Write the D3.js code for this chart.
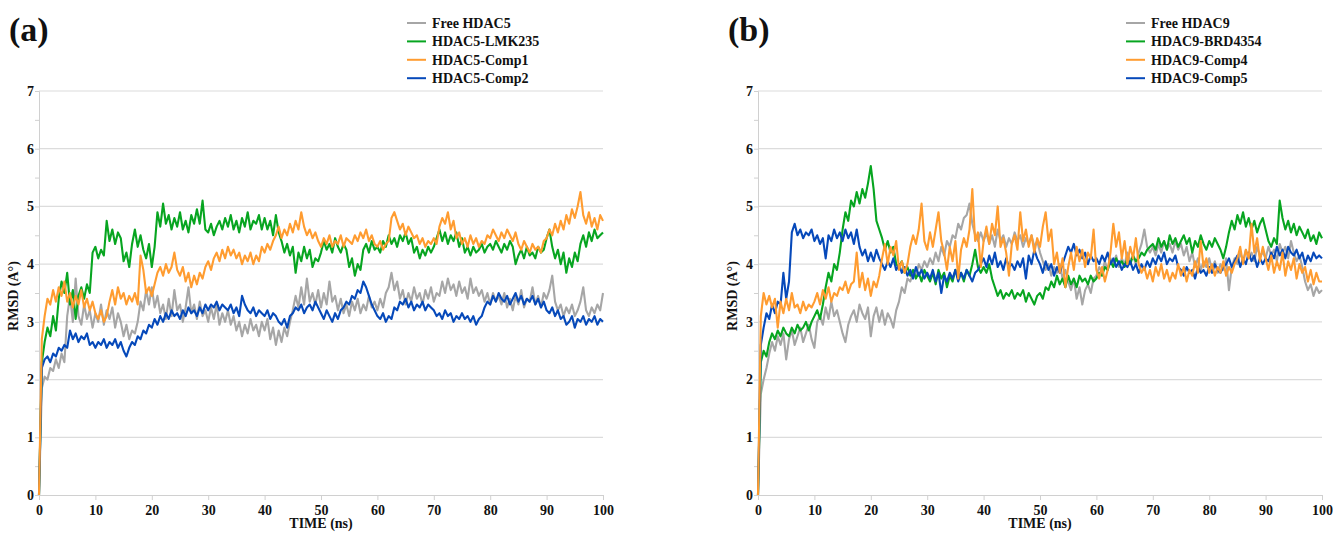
<!DOCTYPE html>
<html>
<head>
<meta charset="utf-8">
<script src="https://cdn.jsdelivr.net/npm/d3@7"></script>
<style>
  body { margin: 0; background: #fff; }
  text { font-family: "Liberation Serif", "Times New Roman", serif; font-weight: bold; fill: #111; }
</style>
</head>
<body>
<div id="chart"></div>
<script>
/* RMSD of HDAC5 / HDAC9 complexes over 100 ns, two panels */

// time axis in ns, one sample each 0.5 ns
const times = d3.range(0, 100.001, 0.5);
const xTicks = [0, 10, 20, 30, 40, 50, 60, 70, 80, 90, 100];
const yTicks = [0, 1, 2, 3, 4, 5, 6, 7];

// panel (a)
const namesA = ["Free HDAC5", "HDAC5-LMK235", "HDAC5-Comp1", "HDAC5-Comp2"];
const freeHDAC5 = [
  0, 1.85, 2.05, 2.0, 2.2, 2.15, 2.35, 2.2, 2.45, 2.3, 3.1, 3.45, 3.0, 3.75, 3.1, 2.95, 3.3, 3.05, 3.2, 2.9,
  3.15, 3.0, 3.3, 2.95, 3.2, 3.05, 3.25, 2.9, 3.15, 3.0, 2.75, 2.95, 2.7, 2.85, 2.8, 3.0, 3.35, 3.2, 3.55, 3.3,
  3.6, 3.25, 3.45, 3.15, 3.3, 3.05, 3.4, 3.1, 3.55, 3.2, 3.3, 3.0, 3.25, 3.6, 3.15, 3.3, 3.05, 3.35, 3.1, 3.2,
  3.0, 3.25, 3.05, 3.3, 2.95, 3.15, 3.0, 3.2, 2.95, 3.1, 2.85, 3.0, 2.75, 2.95, 2.8, 3.05, 2.85, 2.95, 2.75, 3.0,
  2.85, 3.05, 2.7, 2.9, 2.6, 2.85, 2.65, 2.9, 2.75, 3.0, 3.2, 3.45, 3.25, 3.6, 3.3, 3.75, 3.35, 3.5, 3.3, 3.55,
  3.25, 3.5, 3.3, 3.7, 3.35, 3.45, 3.2, 3.4, 3.15, 3.3, 3.1, 3.35, 3.2, 3.4, 3.15, 3.3, 3.2, 3.45, 3.25, 3.35,
  3.2, 3.4, 3.25, 3.5, 3.6, 3.85, 3.55, 3.7, 3.4, 3.55, 3.3, 3.5, 3.35, 3.6, 3.4, 3.5, 3.3, 3.55, 3.4, 3.6,
  3.35, 3.5, 3.45, 3.7, 3.5, 3.75, 3.55, 3.65, 3.45, 3.7, 3.5, 3.6, 3.4, 3.75, 3.5, 3.6, 3.45, 3.55, 3.35, 3.5,
  3.3, 3.5, 3.35, 3.45, 3.3, 3.5, 3.25, 3.4, 3.2, 3.45, 3.3, 3.55, 3.25, 3.4, 3.35, 3.6, 3.3, 3.45, 3.25, 3.5,
  3.4, 3.55, 3.8, 3.35, 3.2, 3.3, 3.1, 3.25, 3.15, 3.3, 3.1, 3.2, 3.35, 3.6, 3.2, 3.1, 3.25, 3.15, 3.3, 3.2,
  3.5];
const lmk235 = [
  0, 2.3, 2.65, 2.9, 2.75, 3.1, 2.85, 3.4, 3.7, 3.5, 3.85, 3.3, 3.55, 3.05, 3.45, 3.6, 3.4, 3.65, 3.5, 4.2,
  4.3, 4.1, 4.25, 4.15, 4.75, 4.4, 4.6, 4.35, 4.55, 4.45, 4.05, 4.2, 3.95, 4.35, 4.6, 4.3, 4.5, 4.25, 4.1, 4.35,
  3.95, 4.3, 4.9, 4.65, 5.05, 4.7, 4.85, 4.6, 4.8, 4.65, 4.9, 4.6, 4.75, 4.55, 4.85, 4.7, 4.95, 4.7, 5.1, 4.6,
  4.55, 4.7, 4.5, 4.65, 4.75, 4.6, 4.8, 4.65, 4.85, 4.6, 4.75, 4.55, 4.8, 4.65, 4.9, 4.6, 4.75, 4.7, 4.85, 4.6,
  4.8, 4.6, 4.75, 4.5, 4.85, 4.55, 4.4, 4.2, 4.35, 4.15, 4.3, 3.85, 4.2, 4.05, 4.3, 4.1, 4.25, 3.95, 4.1, 4.05,
  4.2, 4.4, 4.25, 4.35, 4.2, 4.45, 4.3, 4.2, 4.35, 4.25, 3.95, 4.1, 3.8, 4.0, 3.9, 4.25, 4.35, 4.2, 4.4, 4.25,
  4.3, 4.2, 4.4, 4.3, 4.5, 4.35, 4.45, 4.3, 4.5, 4.4, 4.55, 4.35, 4.45, 4.2, 4.3, 4.1, 4.25, 4.15, 4.3, 4.2,
  4.3, 4.45, 4.6, 4.4, 4.55, 4.35, 4.5, 4.4, 4.55, 4.3, 4.45, 4.2, 4.3, 4.15, 4.3, 4.2, 4.25, 4.35, 4.2, 4.3,
  4.35, 4.25, 4.4, 4.3, 4.2, 4.35, 4.25, 4.4, 4.3, 4.0, 4.15, 4.25, 4.1, 4.3, 4.15, 4.2, 4.1, 4.3, 4.2, 4.25,
  4.45, 4.6, 4.3, 4.1, 4.25, 4.0, 4.2, 3.85, 4.1, 3.95, 4.2, 4.05, 4.35, 4.5, 4.3, 4.55, 4.4, 4.6, 4.45, 4.5,
  4.55];
const comp1 = [
  0, 2.7, 3.1, 3.4, 3.3, 3.55, 3.35, 3.6, 3.45, 3.7, 3.35, 3.5, 3.25, 3.45, 3.3, 3.55, 3.25, 3.4, 3.2, 3.35,
  3.15, 3.05, 3.2, 3.0, 3.1, 3.35, 3.55, 3.3, 3.6, 3.4, 3.5, 3.3, 3.45, 3.35, 3.5, 3.3, 4.15, 3.9, 3.5, 3.6,
  3.45, 3.65, 3.85, 3.95, 3.8, 4.0, 3.85, 3.95, 4.2, 3.9, 3.8, 3.95, 3.7, 3.85, 3.6, 3.8, 3.65, 3.85, 3.75, 3.95,
  4.05, 3.9, 4.1, 4.2, 4.05, 4.25, 4.1, 4.3, 4.15, 4.25, 4.1, 4.2, 4.0, 4.15, 4.05, 4.2, 4.0, 4.15, 4.05, 4.3,
  4.2, 4.35, 4.25, 4.4, 4.5, 4.65, 4.45, 4.6, 4.5, 4.7, 4.55, 4.75, 4.6, 4.9, 4.65, 4.5, 4.6, 4.45, 4.55, 4.4,
  4.3, 4.45, 4.35, 4.5, 4.3, 4.4, 4.35, 4.5, 4.3, 4.45, 4.4, 4.35, 4.5, 4.4, 4.55, 4.45, 4.6, 4.4, 4.5, 4.35,
  4.3, 4.4, 4.25, 4.35, 4.4, 4.8, 4.9, 4.75, 4.6, 4.7, 4.5, 4.65, 4.55, 4.45, 4.5, 4.35, 4.45, 4.3, 4.4, 4.35,
  4.45, 4.35, 4.65, 4.8, 4.7, 4.9, 4.6, 4.75, 4.45, 4.55, 4.35, 4.45, 4.3, 4.5, 4.35, 4.45, 4.3, 4.4, 4.35, 4.5,
  4.45, 4.6, 4.5, 4.4, 4.55, 4.45, 4.6, 4.5, 4.4, 4.55, 4.35, 4.25, 4.4, 4.3, 4.2, 4.35, 4.25, 4.3, 4.2, 4.4,
  4.45, 4.6, 4.5, 4.7, 4.55, 4.75, 4.6, 4.85, 4.7, 4.95, 4.8, 5.0, 5.25, 4.85, 4.7, 4.9, 4.65, 4.8, 4.6, 4.85,
  4.75];
const comp2 = [
  0, 2.2, 2.35, 2.4, 2.3, 2.45, 2.4, 2.55, 2.5, 2.6, 2.55, 2.85, 2.7, 2.8, 2.65, 2.75, 2.7, 2.8, 2.6, 2.65,
  2.55, 2.65, 2.6, 2.7, 2.55, 2.65, 2.6, 2.7, 2.55, 2.65, 2.5, 2.4, 2.55, 2.65, 2.6, 2.75, 2.7, 2.85, 2.8, 2.95,
  2.9, 3.05, 2.95, 3.1, 3.0, 3.15, 3.05, 3.2, 3.1, 3.15, 3.05, 3.2, 3.1, 3.25, 3.15, 3.2, 3.1, 3.25, 3.15, 3.3,
  3.2, 3.3, 3.25, 3.35, 3.2, 3.3, 3.25, 3.2, 3.3, 3.15, 3.25, 3.1, 3.45, 3.3, 3.2, 3.15, 3.25, 3.1, 3.2, 3.15,
  3.1, 3.2, 3.05, 3.15, 3.1, 3.0, 2.95, 3.05, 2.9, 3.1, 3.15, 3.25, 3.2, 3.3, 3.15, 3.25, 3.3, 3.2, 3.35, 3.25,
  3.15, 3.05, 3.2, 3.1, 3.0, 3.15, 3.05, 3.2, 3.25, 3.35, 3.3, 3.45, 3.4, 3.55, 3.5, 3.7, 3.6, 3.45, 3.3, 3.2,
  3.1, 3.05, 3.15, 3.0, 3.1, 3.05, 3.25, 3.2, 3.35, 3.3, 3.4, 3.25, 3.35, 3.2, 3.3, 3.25, 3.35, 3.2, 3.3, 3.25,
  3.2, 3.1, 3.15, 3.05, 3.2, 3.1, 3.15, 3.0, 3.1, 3.05, 3.15, 3.05, 3.1, 3.0, 3.1, 2.95, 3.05, 3.1, 3.25, 3.35,
  3.3, 3.45, 3.35, 3.5, 3.4, 3.35, 3.45, 3.3, 3.4, 3.5, 3.35, 3.45, 3.3, 3.4, 3.35, 3.45, 3.3, 3.4, 3.25, 3.35,
  3.2, 3.15, 3.25, 3.1, 3.2, 3.05, 3.1, 2.95, 3.0, 3.1, 2.9, 3.05, 3.0, 3.1, 2.95, 3.05, 3.0, 3.1, 2.95, 3.05,
  3.0];

// panel (b)
const namesB = ["Free HDAC9", "HDAC9-BRD4354", "HDAC9-Comp4", "HDAC9-Comp5"];
const freeHDAC9 = [
  0, 1.75, 2.0, 2.2, 2.45, 2.65, 2.5, 2.75, 2.6, 2.8, 2.35, 2.7, 2.85, 2.6, 2.75, 2.9, 2.65, 2.8, 2.95, 2.7,
  2.55, 3.0, 3.1, 2.95, 3.25, 3.05, 3.35, 3.1, 3.2, 3.0, 2.8, 2.65, 2.95, 3.1, 3.2, 3.0, 3.3, 3.15, 3.05, 3.25,
  2.75, 3.1, 3.25, 3.0, 3.2, 2.95, 3.15, 3.05, 2.9, 3.2, 3.35, 3.6, 3.5, 3.75, 3.7, 3.85, 3.8, 4.0, 3.9, 4.05,
  3.95, 4.1, 4.0, 4.2, 4.05, 4.3, 4.15, 4.4, 4.3, 4.5, 4.45, 4.7, 4.6, 4.8, 4.85, 5.05, 4.7, 4.5, 4.4, 4.55,
  4.4, 4.55, 4.35, 4.5, 4.3, 4.6, 4.4, 4.5, 4.3, 4.45, 4.35, 4.55, 4.4, 4.5, 4.3, 4.45, 4.35, 4.5, 4.3, 4.4,
  4.2, 4.05, 3.9, 4.0, 3.8, 3.95, 3.85, 4.0, 3.75, 3.9, 3.7, 3.55, 3.75, 3.4, 3.6, 3.3, 3.55, 3.65, 3.5, 3.75,
  3.8, 3.95, 3.85, 4.05, 3.9, 4.1, 4.0, 4.15, 3.95, 4.1, 4.0, 4.2, 4.05, 4.15, 4.0, 4.2, 4.35, 4.6, 4.3, 4.2,
  4.3, 4.15, 4.35, 4.2, 4.4, 4.25, 4.35, 4.2, 4.4, 4.25, 4.35, 4.15, 4.3, 4.05, 4.2, 3.95, 4.1, 3.9, 4.05, 3.95,
  4.1, 3.9, 4.05, 3.85, 4.0, 3.9, 4.1, 3.55, 3.95, 4.1, 4.0, 4.2, 4.05, 4.25, 4.1, 4.2, 4.05, 4.3, 4.15, 4.2,
  4.1, 4.3, 4.15, 4.25, 4.05, 4.35, 4.2, 4.3, 4.1, 4.4, 4.2, 4.05, 4.15, 3.95, 3.7, 3.55, 3.65, 3.45, 3.6, 3.5,
  3.55];
const brd4354 = [
  0, 2.3, 2.5, 2.4, 2.65, 2.8, 2.7, 2.85, 2.75, 2.9, 2.8, 2.75, 2.9, 2.8, 2.95, 2.85, 2.9, 3.0, 2.85, 3.0,
  3.1, 3.2, 3.05, 3.3, 3.6, 3.85, 3.7, 4.0, 3.9, 4.2, 4.6, 4.9, 4.75, 5.1, 5.0, 5.25, 5.05, 5.3, 5.15, 5.4,
  5.7, 5.3, 4.75, 4.6, 4.45, 4.25, 4.4, 4.2, 4.3, 4.0, 3.95, 4.05, 3.85, 3.95, 3.8, 3.9, 3.75, 3.85, 3.7, 3.9,
  3.8, 3.7, 3.85, 3.65, 3.9, 3.75, 3.85, 3.6, 3.8, 3.7, 3.9, 3.75, 3.85, 3.7, 3.9, 3.8, 4.0, 4.25, 3.95, 3.85,
  3.95, 3.85, 4.0, 3.75, 3.6, 3.45, 3.55, 3.4, 3.5, 3.45, 3.55, 3.4, 3.5, 3.45, 3.55, 3.35, 3.5, 3.4, 3.3, 3.45,
  3.5, 3.4, 3.6, 3.55, 3.7, 3.6, 3.8, 3.65, 3.75, 3.6, 3.8, 3.65, 3.75, 3.6, 3.8, 3.7, 3.75, 3.65, 3.8, 3.7,
  3.75, 3.85, 3.8, 3.95, 3.9, 4.05, 3.95, 4.1, 4.0, 4.05, 3.95, 4.1, 4.0, 4.15, 4.05, 4.1, 4.2, 4.15, 4.25, 4.3,
  4.35, 4.25, 4.45, 4.3, 4.4, 4.25, 4.5, 4.35, 4.45, 4.3, 4.4, 4.5, 4.35, 4.45, 4.2, 4.4, 4.3, 4.5, 4.35, 4.25,
  4.4, 4.3, 4.45, 4.35, 4.25, 4.1, 4.3, 4.55, 4.75, 4.6, 4.85, 4.7, 4.9, 4.65, 4.8, 4.6, 4.75, 4.55, 4.7, 4.8,
  4.6, 4.4, 4.3, 4.45, 4.35, 5.1, 4.8, 4.6, 4.75, 4.55, 4.7, 4.5, 4.65, 4.55, 4.45, 4.6, 4.4, 4.5, 4.35, 4.55,
  4.45];
const comp4 = [
  0, 3.1, 3.5, 3.3, 3.45, 3.25, 3.4, 2.9, 3.35, 3.15, 3.4, 3.2, 3.5, 3.25, 3.3, 3.15, 3.35, 3.2, 3.3, 3.25,
  3.35, 3.5, 3.3, 3.55, 3.4, 3.6, 3.35, 3.5, 3.45, 3.6, 3.55, 3.7, 3.5, 3.65, 3.7, 4.2, 3.6, 3.85, 3.55, 3.75,
  3.45, 3.7, 3.6, 3.8, 4.1, 4.35, 4.0, 4.3, 4.15, 4.4, 3.9, 4.05, 3.85, 4.0, 4.3, 4.5, 4.35, 4.6, 5.05, 4.4,
  4.25, 4.55, 4.3, 4.6, 4.9, 4.4, 4.2, 3.9, 4.3, 4.05, 4.4, 3.75, 4.25, 4.45, 4.3, 4.6, 5.3, 4.4, 4.55, 3.95,
  4.4, 4.65, 4.35, 4.7, 4.5, 5.0, 4.3, 4.45, 4.2, 3.8, 4.35, 4.5, 4.25, 4.9, 4.4, 4.6, 4.3, 4.5, 4.2, 4.45,
  4.3, 4.65, 4.9, 4.4, 4.6, 4.0, 4.2, 3.85, 4.1, 3.6, 3.95, 4.2, 3.9, 4.3, 4.05, 4.25, 3.95, 4.2, 4.1, 4.6,
  3.9, 3.75, 3.95, 3.7, 3.9, 4.2, 4.7, 4.3, 4.55, 4.1, 4.4, 4.0, 4.3, 4.1, 4.45, 4.0, 3.85, 3.95, 3.75, 3.9,
  3.7, 3.95, 3.8, 4.0, 3.75, 3.9, 3.7, 3.85, 3.75, 4.0, 3.8, 3.95, 3.7, 3.9, 3.8, 4.05, 3.85, 4.4, 3.95, 4.1,
  3.85, 4.0, 3.8, 3.95, 3.85, 4.05, 3.8, 3.95, 3.85, 4.0, 4.1, 4.3, 4.0, 4.25, 4.1, 4.7, 4.2, 4.45, 4.05, 4.3,
  4.1, 3.9, 4.15, 3.85, 4.05, 3.9, 4.2, 3.8, 4.05, 3.9, 4.1, 3.75, 4.0, 3.85, 3.95, 3.7, 3.9, 3.65, 3.85, 3.7,
  3.7];
const comp5 = [
  0, 2.6, 2.9, 3.15, 3.05, 3.3, 3.15, 3.35, 3.3, 3.85, 3.4, 3.7, 4.55, 4.7, 4.5, 4.6, 4.45, 4.55, 4.5, 4.6,
  4.4, 4.5, 4.35, 4.45, 4.1, 4.5, 4.4, 4.6, 4.45, 4.55, 4.4, 4.6, 4.45, 4.55, 4.35, 4.6, 4.3, 4.15, 4.25, 4.05,
  4.2, 4.05, 4.25, 4.1, 4.0, 3.9, 4.05, 3.95, 4.1, 3.9, 4.0, 3.85, 3.95, 3.8, 3.9, 3.75, 3.95, 3.8, 3.9, 3.75,
  3.85, 3.75, 3.9, 3.7, 3.85, 3.5, 3.8, 3.7, 3.85, 3.75, 3.9, 3.7, 3.85, 3.75, 3.9, 3.8, 3.7, 3.85, 3.9, 4.0,
  4.1, 3.95, 4.15, 4.0, 4.2, 3.95, 4.05, 3.9, 4.1, 3.95, 4.0, 3.9, 4.05, 3.95, 4.1, 3.75, 4.15, 4.0, 4.25, 4.1,
  4.0, 3.85, 4.05, 3.9, 4.0, 3.8, 3.95, 3.85, 4.0, 4.15, 4.3, 4.2, 4.35, 4.15, 4.25, 4.1, 4.2, 4.0, 4.15, 4.05,
  4.1, 4.0, 4.15, 4.05, 4.2, 4.0, 4.1, 3.95, 4.05, 3.9, 4.0, 3.95, 4.05, 3.9, 4.0, 3.85, 4.0, 3.9, 4.05, 3.95,
  4.1, 4.0, 4.15, 4.05, 4.2, 4.0, 4.1, 4.05, 4.15, 3.95, 3.9, 3.8, 3.95, 3.85, 3.9, 3.75, 3.95, 3.85, 3.9, 3.8,
  3.95, 3.85, 4.0, 3.9, 3.85, 3.95, 4.0, 4.1, 3.95, 4.05, 4.15, 3.95, 4.1, 4.0, 4.2, 4.05, 4.15, 3.95, 4.1, 4.0,
  4.1, 4.05, 4.2, 4.1, 4.3, 4.15, 4.25, 4.1, 4.3, 4.2, 4.15, 4.25, 4.1, 4.2, 4.0, 4.15, 4.05, 4.2, 4.1, 4.15,
  4.1];

// legend order and colours: grey, green, orange, blue
const colors = ["#a6a6a6", "#07a520", "#ff9c30", "#0649ba"];
const drawOrder = [0, 1, 3, 2]; // orange drawn last, sits on top

const width = 1333,
    height = 536;

const svg = d3.select("#chart")
    .append("svg")
    .attr("width", width)
    .attr("height", height)
    .attr("viewBox", [0, 0, width, height]);

svg.append("rect")
    .attr("width", width)
    .attr("height", height)
    .attr("fill", "#fff");

function drawPanel(left, tag, names, series) {
    const x = d3.scaleLinear().domain([0, 100]).range([left, left + 564]);
    const y = d3.scaleLinear().domain([0, 7]).range([495, 91]);
    const g = svg.append("g");

    // horizontal grid at each integer
    g.append("g")
        .selectAll("line")
        .data(yTicks.slice(1))
        .join("line")
        .attr("x1", x(0)).attr("x2", x(100))
        .attr("y1", d => y(d)).attr("y2", d => y(d))
        .attr("stroke", "#dcdcdc")
        .attr("stroke-width", 1.2);

    // y axis with half unit ticks, labels only on integers
    const yAxis = g.append("g")
        .attr("transform", `translate(${x(0)},0)`)
        .call(d3.axisLeft(y).tickValues(d3.range(0, 7.01, 0.5)).tickSize(4).tickFormat(""));
    yAxis.select(".domain").attr("stroke", "#d0d0d0");
    yAxis.selectAll(".tick line").attr("stroke", "#d0d0d0");

    g.append("g")
        .selectAll("text")
        .data(yTicks)
        .join("text")
        .attr("x", x(0) - 5)
        .attr("y", d => y(d))
        .attr("dy", "0.35em")
        .attr("text-anchor", "end")
        .attr("font-size", 14)
        .text(d => d);

    // x axis
    const xAxis = g.append("g")
        .attr("transform", `translate(0,${y(0)})`)
        .call(d3.axisBottom(x).tickValues(xTicks).tickSize(5).tickSizeOuter(0).tickPadding(5));
    xAxis.select(".domain").attr("stroke", "#d0d0d0");
    xAxis.selectAll(".tick line").attr("stroke", "#d0d0d0");
    xAxis.selectAll(".tick text")
        .attr("font-size", 14)
        .attr("font-family", "Liberation Serif, serif")
        .attr("font-weight", "bold")
        .attr("fill", "#111");

    g.append("text")
        .attr("x", (x(0) + x(100)) / 2)
        .attr("y", 528)
        .attr("text-anchor", "middle")
        .attr("font-size", 14)
        .text("TIME (ns)");

    g.append("text")
        .attr("transform", `translate(${left - 21},${296}) rotate(-90)`)
        .attr("text-anchor", "middle")
        .attr("font-size", 14)
        .text("RMSD (A°)");

    // the four traces
    const line = d3.line()
        .x((d, i) => x(times[i]))
        .y(d => y(d));

    for (const k of drawOrder) {
        g.append("path")
            .datum(series[k])
            .attr("d", line)
            .attr("fill", "none")
            .attr("stroke", colors[k])
            .attr("stroke-width", 2.1)
            .attr("stroke-linejoin", "round");
    }

    // legend, top right
    const lx = left + 368;
    const leg = g.append("g")
        .selectAll("g")
        .data(names)
        .join("g")
        .attr("transform", (d, i) => `translate(${lx},${23 + i * 18.4})`);
    leg.append("line")
        .attr("x1", 0).attr("x2", 19)
        .attr("stroke", (d, i) => colors[i])
        .attr("stroke-width", 2);
    leg.append("text")
        .attr("x", 25)
        .attr("dy", "0.35em")
        .attr("font-size", 14)
        .text(d => d);

    // panel tag
    svg.append("text")
        .attr("x", left - 30)
        .attr("y", 41)
        .attr("font-size", 34)
        .text(tag);
}

drawPanel(39, "(a)", namesA, [freeHDAC5, lmk235, comp1, comp2]);
drawPanel(758, "(b)", namesB, [freeHDAC9, brd4354, comp4, comp5]);
</script>
</body>
</html>
